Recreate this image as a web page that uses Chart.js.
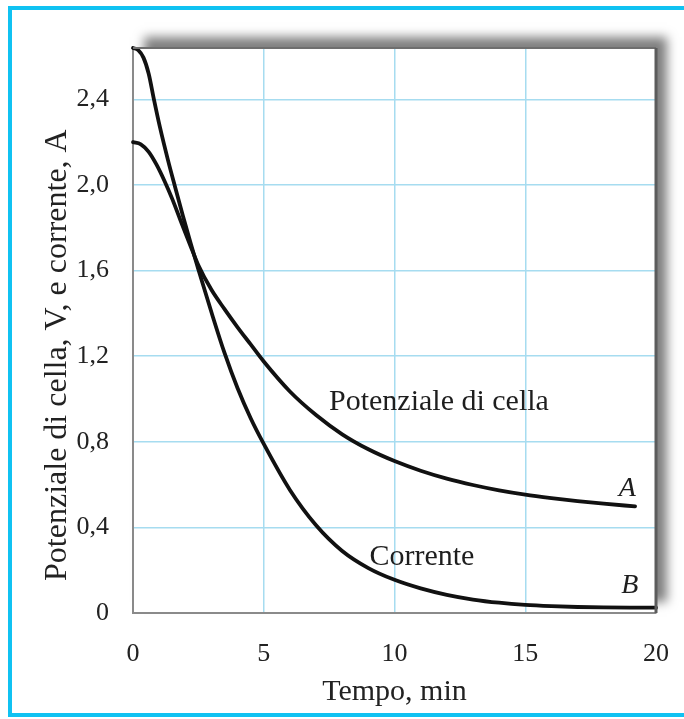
<!DOCTYPE html>
<html><head><meta charset="utf-8">
<script src="https://cdn.jsdelivr.net/npm/chart.js@4.4.1/dist/chart.umd.min.js"></script>
<style>html,body{margin:0;padding:0;background:#fff;overflow:hidden}canvas{display:block}</style>
</head><body>
<canvas id="c" width="684" height="719"></canvas>
<script>
// ---- data ----
const potTime   = [0, 0.3, 0.6, 0.9, 1.2, 1.5, 1.8, 2.2, 2.5, 3.0, 3.5, 4.0, 4.5, 5, 6, 7, 8, 9, 10, 11, 12, 13, 14, 15, 16, 17, 18, 19.2];
const potValues = [2.20, 2.19, 2.155, 2.095, 2.02, 1.935, 1.84, 1.715, 1.625, 1.51, 1.42, 1.335, 1.255, 1.175, 1.035, 0.925, 0.835, 0.765, 0.71, 0.665, 0.628, 0.598, 0.573, 0.553, 0.537, 0.523, 0.511, 0.498];
const curTime   = [0, 0.2, 0.4, 0.6, 0.8, 1.03, 1.34, 1.6, 1.91, 2.2, 2.5, 3.0, 3.5, 4.0, 4.5, 5, 6, 7, 8, 9, 10, 11, 12, 13, 14, 15, 16, 17, 18, 19, 20];
const curValues = [2.64, 2.63, 2.595, 2.52, 2.40, 2.27, 2.115, 1.995, 1.855, 1.73, 1.605, 1.405, 1.215, 1.05, 0.91, 0.79, 0.575, 0.41, 0.29, 0.21, 0.155, 0.115, 0.085, 0.063, 0.048, 0.038, 0.032, 0.028, 0.026, 0.025, 0.025];
const xTickValues = [0, 5, 10, 15, 20];
const xTickLabels = ['0', '5', '10', '15', '20'];
const yTickValues = [0, 0.4, 0.8, 1.2, 1.6, 2.0, 2.4];
const yTickLabels = ['0', '0,4', '0,8', '1,2', '1,6', '2,0', '2,4'];
const xTitle = 'Tempo, min';
const yTitle = 'Potenziale di cella, V, e corrente, A';
const curveTexts = ['Potenziale di cella', 'Corrente', 'A', 'B'];
const curveTextX = [11.7, 11.05, 18.9, 19.0];
const curveTextY = [0.985, 0.26, 0.58, 0.126];
const X_MAX = 20, Y_MAX = 2.64;

// ---- styling ----
const SERIF = "'Liberation Serif', 'Times New Roman', serif";
const gridBlue = '#a6dcf0';

const framePlugin = {
  id: 'frame',
  beforeDraw(chart) {
    const {ctx, chartArea: a} = chart;
    ctx.save();
    // outer cyan frame
    ctx.fillStyle = '#10c2f2';
    ctx.fillRect(8, 6, 684, 4);
    ctx.fillRect(8, 6, 4, 711);
    ctx.fillRect(8, 713, 684, 4);
    // drop shadow to the upper right
    ctx.shadowColor = 'rgba(0,0,0,0.5)';
    ctx.shadowBlur = 10;
    ctx.shadowOffsetX = 11;
    ctx.shadowOffsetY = -11;
    ctx.fillStyle = '#ffffff';
    ctx.fillRect(a.left, a.top, a.right - a.left, a.bottom - a.top);
    ctx.restore();
  },
  afterDraw(chart) {
    const {ctx, chartArea: a} = chart;
    ctx.save();
    ctx.strokeStyle = '#6e6e6e';
    ctx.lineWidth = 2;
    ctx.beginPath();
    ctx.moveTo(a.left, a.top); ctx.lineTo(a.right, a.top);
    ctx.stroke();
    ctx.strokeStyle = '#5c5c5c';
    ctx.lineWidth = 3;
    ctx.beginPath();
    ctx.moveTo(a.right, a.top); ctx.lineTo(a.right, a.bottom);
    ctx.stroke();
    // curve labels
    const xs = chart.scales.x, ys = chart.scales.y;
    ctx.fillStyle = '#1e1e1e';
    ctx.textAlign = 'center';
    ctx.textBaseline = 'middle';
    curveTexts.forEach((t, i) => {
      const italic = t.length === 1;
      ctx.font = (italic ? 'italic 28px ' : '30px ') + SERIF;
      ctx.fillText(t, xs.getPixelForValue(curveTextX[i]), ys.getPixelForValue(curveTextY[i]));
    });
    // y-axis title
    ctx.translate(58, ys.getPixelForValue(1.205));
    ctx.rotate(-Math.PI / 2);
    ctx.font = '32px ' + SERIF;
    ctx.fillStyle = '#222';
    ctx.fillText(yTitle, 0, 0);
    ctx.restore();
  }
};

const toPts = (xs, ys) => xs.map((x, i) => ({x, y: ys[i]}));

new Chart(document.getElementById('c'), {
  type: 'line',
  data: {
    datasets: [
      { label: 'Potenziale di cella', data: toPts(potTime, potValues) },
      { label: 'Corrente', data: toPts(curTime, curValues) }
    ].map(d => Object.assign(d, {
      borderColor: '#111111', borderWidth: 3.8, pointRadius: 0, fill: false,
      tension: 0.4, cubicInterpolationMode: 'monotone', clip: 4, borderCapStyle: 'round'
    }))
  },
  options: {
    responsive: false,
    animation: false,
    devicePixelRatio: 1,
    layout: { padding: { top: 48, right: 0, left: 0, bottom: 0 } },
    plugins: { legend: { display: false }, tooltip: { enabled: false } },
    scales: {
      x: {
        type: 'linear', min: 0, max: X_MAX,
        afterFit: s => { s.height = 106; s.paddingRight = 28; s.paddingLeft = 0; },
        afterBuildTicks: s => { s.ticks = xTickValues.map(v => ({value: v})); },
        ticks: {
          callback: (v, i) => xTickLabels[i],
          font: { family: SERIF, size: 26 }, color: '#222', padding: 26, maxRotation: 0
        },
        grid: { color: gridBlue, lineWidth: 1.5, drawTicks: false },
        border: { color: '#8a8a8a', width: 2 },
        title: { display: true, text: xTitle, font: { family: SERIF, size: 30 }, color: '#222', padding: { top: 0, bottom: 9 } }
      },
      y: {
        type: 'linear', min: 0, max: Y_MAX,
        afterFit: s => { s.width = 133; },
        afterBuildTicks: s => { s.ticks = yTickValues.map(v => ({value: v})); },
        ticks: {
          callback: (v, i) => yTickLabels[i],
          font: { family: SERIF, size: 26 }, color: '#222', padding: 24
        },
        grid: { color: gridBlue, lineWidth: 1.5, drawTicks: false },
        border: { color: '#8a8a8a', width: 2 },
        title: { display: false }
      }
    }
  },
  plugins: [framePlugin]
});
</script>
</body></html>
